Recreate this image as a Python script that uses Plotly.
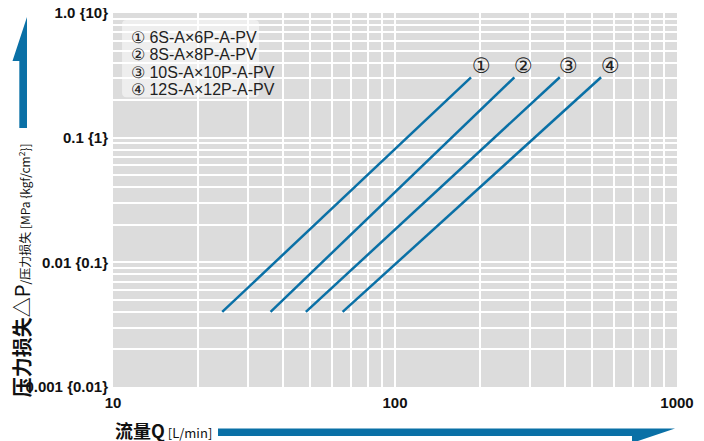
import math

import plotly.graph_objects as go

# ---------------------------------------------------------------------------
# Data
# ---------------------------------------------------------------------------

SERIES = ["①", "②", "③", "④"]
MODELS = ["6S-A×6P-A-PV", "8S-A×8P-A-PV", "10S-A×10P-A-PV", "12S-A×12P-A-PV"]
FLOW_START = [24.4, 36.2, 48.3, 65.2]      # L/min
FLOW_END = [186, 265, 384, 538]            # L/min
DP_START = [0.0040, 0.0040, 0.0040, 0.0040]  # MPa
DP_END = [0.305, 0.305, 0.305, 0.305]      # MPa
LABEL_FLOW = [202, 286, 411, 579]
LABEL_DP = 0.376

X_TICKS = [10, 100, 1000]
X_TICK_TEXT = ["10", "100", "1000"]
Y_TICKS = [0.001, 0.01, 0.1, 1.0]
Y_TICK_TEXT = ["0.001 {0.01}", "0.01 {0.1}", "0.1 {1}", "1.0 {10}"]
X_MINOR = [m * 10 ** k for k in (1, 2) for m in range(2, 10)]
Y_MINOR = [m * 10.0 ** k for k in (-3, -2, -1) for m in range(2, 10)]

BLUE = "#0a70a6"
NARROW = "Liberation Sans Narrow, Arial Narrow, Liberation Sans, Arial, sans-serif"
CJK = "Noto Sans CJK SC, Noto Sans CJK JP, sans-serif"

fig = go.Figure()

for name, x0, x1, y0, y1 in zip(SERIES, FLOW_START, FLOW_END, DP_START, DP_END):
    fig.add_trace(go.Scatter(
        x=[x0, x1], y=[y0, y1], mode="lines", name=name,
        line=dict(color=BLUE, width=2.5), showlegend=False, hoverinfo="skip",
    ))

# circled numbers at the top of each curve (log axes -> log10 positions)
for name, xl in zip(SERIES, LABEL_FLOW):
    fig.add_annotation(x=math.log10(xl), y=math.log10(LABEL_DP), xref="x", yref="y",
                       text=name, showarrow=False,
                       font=dict(family="DejaVu Sans, " + CJK, size=21, color="#222"))

# legend box
fig.add_shape(type="path", xref="paper", yref="paper", layer="above",
              path="M 0.024,0.981 L 0.251,0.981 Q 0.259,0.981 0.259,0.969 L 0.259,0.787 "
                   "Q 0.259,0.775 0.251,0.775 L 0.024,0.775 Q 0.016,0.775 0.016,0.787 "
                   "L 0.016,0.969 Q 0.016,0.981 0.024,0.981 Z",
              fillcolor="rgba(255,255,255,0.5)", line=dict(width=0))

for i, (num, model) in enumerate(zip(SERIES, MODELS)):
    fig.add_annotation(x=0.028, y=0.935 - i * 0.0465, xref="paper", yref="paper",
                       xanchor="left", yanchor="middle", showarrow=False,
                       text=f"{num} {model}",
                       font=dict(family=NARROW, size=16, color="#222"))

# axis arrows
fig.add_shape(type="path", xref="paper", yref="paper", layer="above",
              path="M -0.1525,0.9893 L -0.1782,0.8717 L -0.1661,0.8717 L -0.1661,0.6925 "
                   "L -0.1525,0.6925 Z",
              fillcolor=BLUE, line=dict(width=0))
fig.add_shape(type="path", xref="paper", yref="paper", layer="above",
              path="M 0.1862,-0.111 L 0.9965,-0.111 L 0.9202,-0.1497 L 0.9202,-0.131 "
                   "L 0.1862,-0.131 Z",
              fillcolor=BLUE, line=dict(width=0))

# axis titles
fig.add_annotation(x=-0.161, y=0.313, xref="paper", yref="paper", showarrow=False,
                   textangle=-90, xanchor="center", yanchor="middle",
                   text="<b>压力损失</b>△P<span style='font-size:12px'>/压力损失 [MPa {kgf/cm<sup>2</sup>}]</span>",
                   font=dict(family=CJK, size=20, color="#111"))
fig.add_annotation(x=0.0, y=-0.114, xref="paper", yref="paper", showarrow=False,
                   xanchor="left", yanchor="middle",
                   text="<b>流量Q</b><span style='font-size:13px'> [L/min]</span>",
                   font=dict(family=CJK, size=18, color="#111"))

fig.update_xaxes(
    type="log", range=[1, 3], tickvals=X_TICKS, ticktext=X_TICK_TEXT, automargin=False,
    showgrid=True, gridcolor="white", gridwidth=1.5, zeroline=False, showline=False,
    ticks="", ticklabelstandoff=5, ticklabeloverflow="allow",
    tickfont=dict(family=NARROW, size=15, color="#111", weight="bold"),
    minor=dict(tickvals=X_MINOR, showgrid=True, gridcolor="white", gridwidth=1.5, ticks=""),
)
fig.update_yaxes(
    type="log", range=[-3, 0], tickvals=Y_TICKS, ticktext=Y_TICK_TEXT, automargin=False,
    showgrid=True, gridcolor="white", gridwidth=1.5, zeroline=False, showline=False,
    ticks="", ticklabelstandoff=4, ticklabeloverflow="allow",
    tickfont=dict(family=NARROW, size=15, color="#111", weight="bold"),
    minor=dict(tickvals=Y_MINOR, showgrid=True, gridcolor="white", gridwidth=1.5, ticks=""),
)
# the page body adds an 8px offset, so the figure is sized to fit the window
fig.update_layout(
    width=696, height=433,
    margin=dict(l=105, r=27, t=5, b=54),
    plot_bgcolor="#dcdcdc", paper_bgcolor="white",
    showlegend=False,
)

fig.write_html("out.html")
